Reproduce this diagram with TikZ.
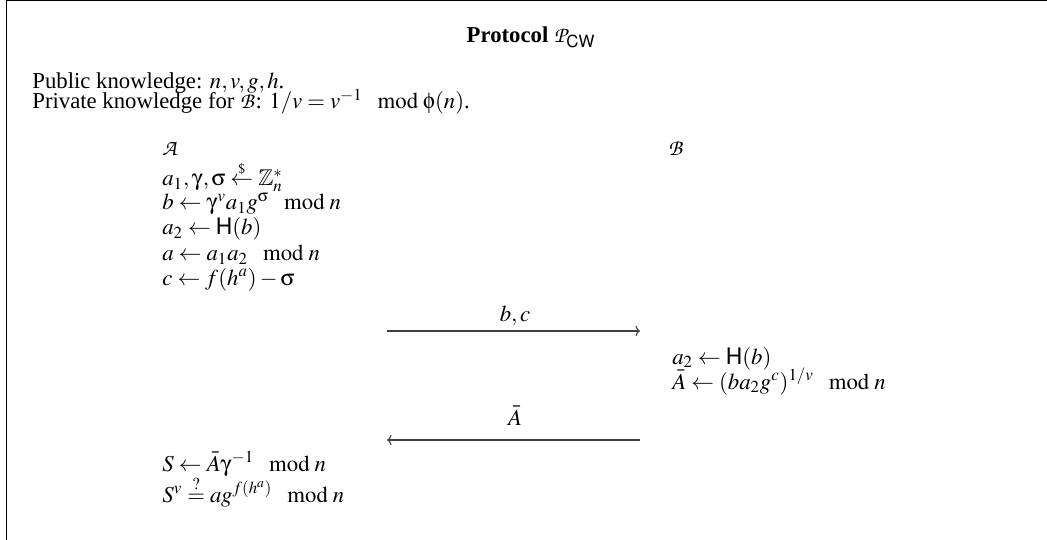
\documentclass[tikz,border=0pt]{standalone}
\usepackage{amsmath,amssymb}
\usepackage{mathptmx}
\usepackage[no-math]{fontspec}
\setmainfont{Liberation Serif}
\DeclareMathAlphabet{\mathsf}{OT1}{phv}{m}{n}
\DeclareMathAlphabet{\mathcal}{OT1}{pzc}{m}{it}
\DeclareSymbolFont{upgr}{U}{psy}{m}{n}
\DeclareMathSymbol{\upg}{\mathord}{upgr}{`g}
\DeclareMathSymbol{\ups}{\mathord}{upgr}{`s}
\DeclareMathSymbol{\upf}{\mathord}{upgr}{`f}
\usetikzlibrary{arrows.meta}
\begin{document}
\begin{tikzpicture}[x=0.5714pt,y=-0.5714pt,
  txt/.style={anchor=base west,inner sep=0pt,font=\fontsize{13}{15.6}\selectfont},
  ctr/.style={anchor=base,inner sep=0pt,font=\fontsize{13}{15.6}\selectfont},
  msg/.style={line width=0.65pt,draw=black!75,-{To[length=2.6pt,width=6pt]}},
  frame/.style={line width=0.7pt,draw=black}
]
\useasboundingbox (0,0) rectangle (1047,540);
\draw[frame] (6.5,540) -- (6.5,0.6) -- (1047,0.6);

\node[ctr] (title) at (531,43) {\textbf{Protocol} $\mathcal{P}_{\mathsf{CW}}$};
\node[txt] (pub) at (32,89) {Public knowledge: $n,v,g,h$.};
\node[txt] (priv) at (32,109) {Private knowledge for $\mathcal{B}$: $1/v = v^{-1} \mod \upf(n)$.};

\node[txt] (A) at (162,156) {$\mathcal{A}$};
\node[txt] (B) at (668,156) {$\mathcal{B}$};

\node[txt] (l1) at (162,186) {$a_1,\upg,\ups \stackrel{\scriptscriptstyle\$}{\leftarrow} \mathbb{Z}_n^*$};
\node[txt] (l2) at (162,210) {$b \leftarrow \upg^v a_1 g^{\ups} \mod n$};
\node[txt] (l3) at (162,235) {$a_2 \leftarrow \mathsf{H}(b)$};
\node[txt] (l4) at (162,261) {$a \leftarrow a_1 a_2 \mod n$};
\node[txt] (l5) at (162,285) {$c \leftarrow f(h^a) - \ups$};

\coordinate (m1s) at (387,331);
\coordinate (m1e) at (640,331);
\draw[msg] (m1s) -- (m1e);
\node[ctr] (m1l) at (515,321) {$b,c$};

\node[txt] (r1) at (672,364) {$a_2 \leftarrow \mathsf{H}(b)$};
\node[txt] (r2) at (672,389) {$\bar{A} \leftarrow (b a_2 g^c)^{1/v} \mod n$};

\coordinate (m2s) at (640,440);
\coordinate (m2e) at (387,440);
\draw[msg] (m2s) -- (m2e);
\node[ctr] (m2l) at (515,425) {$\bar{A}$};

\node[txt] (s1) at (162,471) {$S \leftarrow \bar{A}\upg^{-1} \mod n$};
\node[txt] (s2) at (162,502) {$S^v \stackrel{?}{=} a g^{f(h^a)} \mod n$};
\end{tikzpicture}
\end{document}
